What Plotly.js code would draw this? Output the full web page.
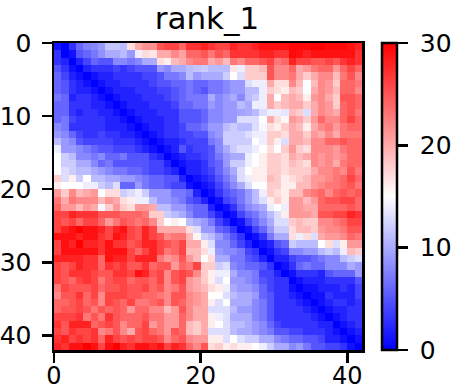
<!DOCTYPE html>
<html><head><meta charset="utf-8">
<script src="https://cdn.plot.ly/plotly-3.0.1.min.js"></script>
<style>html,body{margin:0;padding:0;background:#fff}</style></head>
<body><div id="chart" style="width:475px;height:392px"></div>
<script>
const chartTitle = "rank_1";
const xTicks = [0, 20, 40];
const yTicks = [0, 10, 20, 30, 40];
const barTicks = [0, 10, 20, 30];
const xEdges = [0,1,2,3,4,5,6,7,8,9,10,11,12,13,14,15,16,17,18,19,20,21,22,23,24,25,26,27,28,29,30,31,32,33,34,35,36,37,38,39,40,41,42];
const yEdges = xEdges;
const values = [
[1,0,3,6,7.5,8,9,11.5,11.5,11,17,20,21.5,21.5,25,26,26,24,27,27,28, 27,26,26,28,27,27,28,29,29,29,29,29.5,29.5,29.5,30,30,29.5,29.5,29.5,29,28],
[3,0,1,5,6,7,8.5,10,10,11,9,14,17,16.5,20,20,22,20.5,24,24,25, 23,25,24,27,27,27,27,28,28,27,27,29.5,29,28,29,29,29,29,29,29,27],
[3,2,0,2,4,6,5,5,8,8,7,8,10,10,17,16,19,20,22,23,23, 20,21,19,23,22,24,24,25,26,23,24,28,26,26,25,25,26,25,27,28,27],
[5,3,1,0,2,3,3,3,4,3,4,5,5,5,9,8,10,10,11, 11.5,12,11,11,11,16.5,14,18,18,19,25,22,22, 24,20,21,23,24,24,21,24,26,24],
[6,4,2,1,0,1,2,2,3,3,3,3,4,4,5,7,7,8,11, 9,10,10,10,12,15,13,18,18,18,25,22,22, 23,20,18,20,22,22,19,23,25,22],
[6,5,3,2,1,0,1,2,2,3,3,3,3,4,5,5,6,6,7, 6,6,7,7,8,9,9,13,14,14,20,17,17, 22,19,15,19,22,21,18,24,24,23],
[6,5,3,2,2,1,0,1,2,2,2,3,3,3,4,4,5,6,7, 6,5,7,7,8,9,9,11,11,14,18,17,16, 19,18,15,20,22,21,19,24,24,22],
[7,6,2,3,3,2,1,0,1,2,2,2,3,3,3,4,5,6,7, 7,7,10,8,9,10,8,11,12,14,20,15,19, 20,19,16,21,22,20,18,25,25,24],
[6,6,3,3,3,2,2,1,0,1,2,2,2,3,3,3,4,6,6, 7,7,9,8,9,9,11,10,14,14,20,18,19, 20,20,18,20,22,21,18,24,25,24],
[6,6,3,2,3,3,2,2,1,0,1,2,2,2,3,3,3,5,5, 5,6,8,8,9,9,9.5,10,11,13,14,14,13.5, 19,18,13,20,22,21,20,24,25,23],
[6,7,4,3,3,3,3,2,2,1,0,1,2,2,2,3,3,5,5, 5,6,8,8,9,9,13,13,13,15,20,17,15.5, 21,20,18,21,24,22,22,24,26,24],
[8,7,3,3,3,3,3,2,2,2,1,0,1,2,2,3,3,4,6, 6,7,9,9,11,12,11,11,13,14.5,17,16,18, 20,19,16,20,22,23,21,23,24,24],
[9,8,6,4,3,3,4,3,3,2,2,1,0,1,2,3,3,4,4, 5,5,8,9,12,12,12,13,14,14,18,18,17, 20,20,18,21,20,22,20,23,23,23],
[11,9,8,5,4,4,4,4,3,3,3,2,1,0,1,2,2,3,4, 4,4,7,8,12,12,12,12,15,14,18,16,13, 20,20,19,22,22,24,24,25,24,24],
[14,9,9,8,7,6,5,5,4,4,4,3,2,1,0,1,2,5,3, 4,4,5,8,10,12,13,13,14,15,17,15,18, 21,18,17,22,22,22,21,23,24,24],
[15,12,11,8,8,7,8,6,6,7,5,5,5,3,2,0,1,2,3, 3,4,5,7,9,10,10,14,15,16,18,18,17, 20,19,20,22,21,22,21,22,24,24],
[15,12,12,10,10,8,6,7,5,5,5,5,5,4,4,2,0,1,2, 2,3,5,6,9,12,12,14,15,16,18,18,17, 19,18,17,22,21,22,20,23,24,24],
[15,13,12,11,11,10,9,8,7,7,6,6,5,4,4,3,2,0,2, 2,3,4,6,8,10,13,15,16,16,18,18,17, 18,18,18,20,22,22,23,22,25,23],
[18,13,16,12,15,11,11,10,10,9,9,8,7,6,6,5,5,2,0, 1,2,3,5,7,9,13,14,16,16,19,18,16, 17,18,19,21,21,22,23,24,26,24],
[16,15,15,15,14,14,12,11,13,6,6,9,7,6,6,5,4,4,1, 0,1,2,4,6,8,10,13,15,15,18,18,16, 16,19,19,21,22,23,23,24,25,23],
[21,18,22,19,20,21,15,17,17,12,13,14,12,9,9,9,7,7,6,2,0, 1,3,5,6,7,9,11,14,18,17,16,19,19,22,23,24,22,24,25,24,25],
[23,20,23,22,22,22,19,21,20,17,16,14,14,11,9,9,8,7,5,4,2, 0,1,4,5,7,9,11,13,16,18,16,21,21,19,21,24,25,25,26,26,24],
[24,21,21,19,21,20,14.5,18,21,18,17,21,21,20,11,11,9,9,7,6,6, 2,0,1,3,6,8,9,10,14,15,14,21,21,20,20,24,24,24,24,25,24],
[26,26,28,27,27,27,25,25,25,24,24,24,23,18,18,12,11,10,8,6,6, 4,2,0,1,4,6,7,9,11,13,16,21,21,21,20,25,25,26,26,28,27],
[26,25,26,24,26,26,24,21,23,25,24,23,24,22,18, 15,16,15,11,10,9,7,4,2,0,1,4,6,8,10, 13,13,18,19,18,18,22,22,23,24,26,26],
[26,28,29,30,29,29,28,26,28,29,26,25,28,26,20, 20,20,20,17,13,9,9,6,5,3,0,1,4,6,9, 12,12,17,19,19,18,21,22,22,23,25,25],
[29,29,29,28,29,29,27,26,29,28,26,25,28,26,25, 22,23,23,19,15.5,12,11,9,7,5,3,0,1,3,7, 10,10,17,14,17,13,20,21,21,22,24,23],
[26,29,28,30,28,28,27,29,27,27,25,26,28,28,26, 25,24,26,20,20,16,13,8,8,6,4,2,0,1,2, 5,6,12,11,11,11,15,17,13,16,21,21],
[26,29,29,29,29,29,27,29,29,29,26,24,26,28,26, 23,24,26,19,19,17,14,9,8,8,7,4,3,0,1, 3,4,8,8,9,9,11,12,11,14,19,18],
[28,28,28,28,27,27,24,29,28,28,26,28,28,28,23, 21,22,25,21,19,15,17,10,10,7,7,5,4,2,0, 2,2,4,5,5,6,7,8,8,11,12,13],
[26,25,26,28,27,27,24,27,26,27,25,25,27,24,25, 25,21,24,23,26,18,18,12,13,8,7,6,6,5,3, 0,1,3,6,7,6,6,8,8,8,10,9],
[26,25,27,27,27,26,25,25,27,27,26,29,28,25,26, 22,25,26,25,22,18,16,14,14,10,8,8,7,4,4, 2,0,1,3,3,3,2,5,6,6,6,9],
[26,25,24,26,27,26,23,25,26,26,24,25,25,24,26, 22,25,26,21,20,18,16,13,15,9,9,8,7,5,4, 3,3,0,1,2,2,2,3,3,3,3,5],
[23,26,25,25,25,26,24,25,25,26,25,25,26,24,25, 22,23,25,21,20,19,17,16,14,10,9,9,8,6,4, 3,3,1,0,1,1,2,2,2,3,2,4],
[22,25,25,27,24,26,22,26,26,26,25,25,24,24,23, 22,25,25,22,21,20,15,15,13,11,10,10,9,6,5, 3,3,2,1,0,1,1,3,2,2,2,4],
[24,24,25,26,24,25,22,26,25,24,26,23,23,24,25, 22,25,24,22,21,20,16,13,15,10,10,10,8,7,5, 3,3,3,2,1,0,1,2,3,3,2,3],
[24,25,25,26,25,23,25,24,25,24,21,24,24,22,22, 19,21,25,22,20,20,13,13,13,11,9,9,8,7,5, 3,3,3,3,2,1,0,1,2,2,3,3],
[26,26,26,27,23,25,23,27,25,24,24,24,25,23,23, 21,21,24,22,20,20,16,14,13,10,10,10,8,7,5, 3,3,3,3,3,2,1,0,1,2,3,3],
[27,25,28,28,28,24,25,26,25,22,24,24,26,21,23, 21,21,24,19,18,20,16,15,13,11,11,10,9,8,6, 4,3,3,3,3,3,2,2,0,1,2,3],
[26,25,27,26,26,27,22,23,25,22,20,25,26,24,23, 21,25,24,19,18,20,13,13,13,11,10,10,9,8,7, 5,5,4,4,3,3,3,2,1,0,1,2],
[27,28,26,27,26,27,24,28,26,25,26,25,26,26,25, 22,24,25,22,21,21,16,16,13,15,13,12,12,10,10, 8,7,6,6,5,5,4,2,2,1,0,1],
[28,27,29,29,30,29,26,29,30,28,27,29,29,28,29, 26,28,27,24,22,25,17,18,16,17,16,16,15,14,12, 10,10,8,9,7,5,5,4,4,3,1,0]
];
const colors = [[0,'#0000ff'],[0.5,'#ffffff'],[1,'#ff0000']];
const font = {family:'"DejaVu Sans", sans-serif', size:25, color:'#000'};
const trace = {
  type:'heatmap', z:values,
  x:xEdges, y:yEdges,
  zmin:0, zmax:30, colorscale:colors, hoverinfo:'skip',
  colorbar:{x:1.065, xanchor:'left', xpad:0, y:0.5, yanchor:'middle', ypad:0, len:1, lenmode:'fraction',
    thickness:15, thicknessmode:'pixels', outlinewidth:2.5, outlinecolor:'#000',
    tickmode:'array', tickvals:barTicks, ticktext:barTicks.map(String), ticks:'outside', ticklen:10, tickwidth:2.5, tickcolor:'#000',
    tickfont:font}
};
const axisBase = {showgrid:false, zeroline:false, showline:true, linecolor:'#000', linewidth:2.5, mirror:true,
  ticks:'outside', ticklen:10, tickwidth:2.5, tickcolor:'#000', tickfont:font, tickmode:'array'};
const layout = {
  width:475, height:392, paper_bgcolor:'#fff', plot_bgcolor:'#fff',
  margin:{l:54,r:113,t:43,b:42,pad:0},
  title:{text:chartTitle, font:{family:font.family,size:31,color:'#000'}, x:207/475, xanchor:'center', y:1-18.5/392, yanchor:'middle'},
  xaxis:Object.assign({},axisBase,{range:[0,42],tickvals:xTicks,ticktext:xTicks.map(String),ticklabelstandoff:-7,tickfont:{family:font.family,size:24,color:'#000'}}),
  yaxis:Object.assign({},axisBase,{range:[42,0],tickvals:yTicks,ticktext:yTicks.map(String),ticklabelstandoff:5})
};
Plotly.newPlot('chart',[trace],layout,{displayModeBar:false,staticPlot:true}).then(function(){
  document.querySelectorAll('.cbaxis text').forEach(function(t){
    t.setAttribute('x', parseFloat(t.getAttribute('x')||0)+7);
  });
});
</script></body></html>
